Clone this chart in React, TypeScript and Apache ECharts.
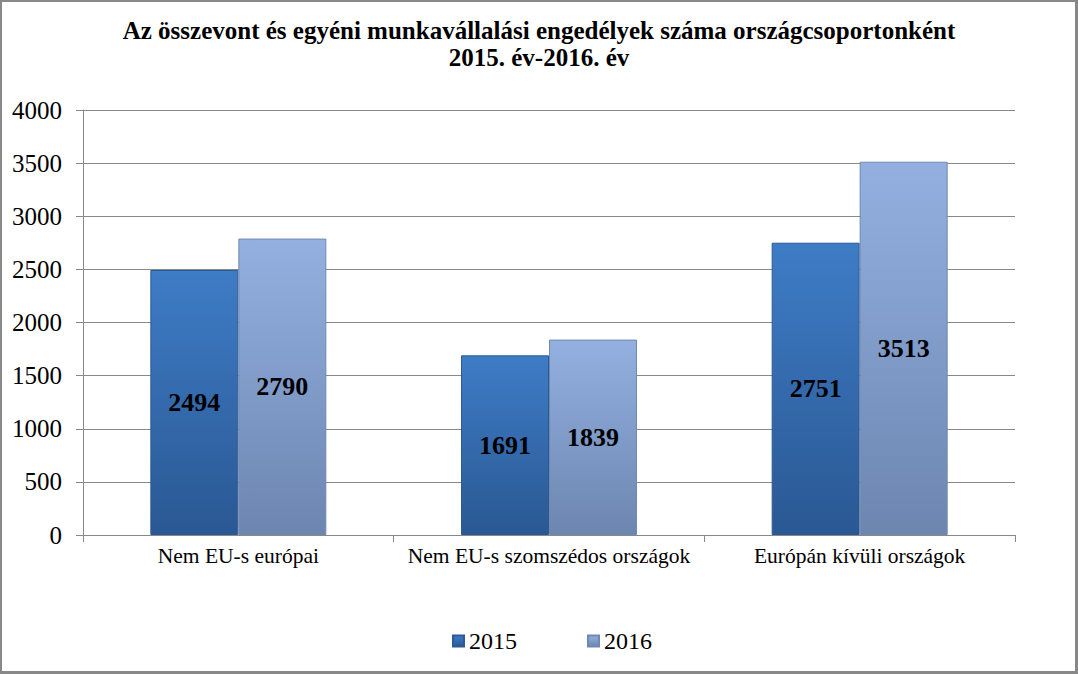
import React, { useEffect, useRef } from "react";
import * as echarts from "echarts";

const categories = ["Nem EU-s európai", "Nem EU-s szomszédos országok", "Európán kívüli országok"];
const series2015 = [2494, 1691, 2751];
const series2016 = [2790, 1839, 3513];
const yTicks = { min: 0, max: 4000, interval: 500 };
const titleText = "Az összevont és egyéni munkavállalási engedélyek száma országcsoportonként\n2015. év-2016. év";

const FONT = "Liberation Serif";

export default function App() {
  const ref = useRef<HTMLDivElement>(null);
  useEffect(() => {
    document.body.style.margin = "0";
    const chart = echarts.init(ref.current!, null, { renderer: "svg" });
    const grad = (a: string, b: string) =>
      new echarts.graphic.LinearGradient(0, 0, 0, 1, [
        { offset: 0, color: a },
        { offset: 1, color: b },
      ]);
    const labelStyle = {
      show: true,
      position: "inside",
      fontFamily: FONT,
      fontWeight: "bold",
      fontSize: 26,
      color: "#000",
    };
    chart.setOption({
      animation: false,
      backgroundColor: "transparent",
      textStyle: { fontFamily: FONT },
      title: {
        text: titleText,
        left: "center",
        top: 12,
        textStyle: { fontFamily: FONT, fontWeight: "bold", fontSize: 25, lineHeight: 27, color: "#000" },
      },
      legend: {
        left: 447,
        top: 624,
        itemWidth: 11,
        itemHeight: 11,
        itemGap: 70,
        icon: "rect",
        textStyle: { fontFamily: FONT, fontSize: 24, color: "#000" },
        data: ["2015", "2016"],
      },
      grid: { left: 83, right: 63, top: 110, bottom: 139 },
      xAxis: {
        type: "category",
        data: categories,
        axisLine: { lineStyle: { color: "#888", width: 1 } },
        axisTick: { show: true, length: 7, lineStyle: { color: "#888" } },
        axisLabel: { fontFamily: FONT, fontSize: 21.5, color: "#000", margin: 10, interval: 0 },
      },
      yAxis: {
        type: "value",
        min: yTicks.min,
        max: yTicks.max,
        interval: yTicks.interval,
        axisLine: { show: true, lineStyle: { color: "#888", width: 1 } },
        axisTick: { show: true, length: 7, lineStyle: { color: "#888" } },
        axisLabel: {
          fontFamily: FONT,
          fontSize: 25,
          color: "#000",
          margin: 21,
          formatter: (v: number) => String(v),
        },
        splitLine: { lineStyle: { color: "#888", width: 1 } },
      },
      series: [
        {
          name: "2015",
          type: "bar",
          data: series2015,
          barWidth: 88,
          barGap: "0%",
          itemStyle: {
            color: grad("#3e7cc6", "#2a5893"),
            borderColor: "#2d5a94",
            borderWidth: 1,
          },
          label: labelStyle,
        },
        {
          name: "2016",
          type: "bar",
          data: series2016,
          barWidth: 88,
          barGap: "0%",
          itemStyle: {
            color: grad("#93b0e0", "#6c86b0"),
            borderColor: "#6e88b2",
            borderWidth: 1,
          },
          label: labelStyle,
        },
      ],
    });
    return () => chart.dispose();
  }, []);
  return (
    <div
      style={{
        width: 1078,
        height: 674,
        boxSizing: "border-box",
        border: "2px solid #888",
        borderRightWidth: 3,
        borderBottomWidth: 3,
        position: "relative",
        background: "#fff",
      }}
    >
      <div ref={ref} style={{ position: "absolute", left: -2, top: -2, width: 1078, height: 674 }} />
    </div>
  );
}
